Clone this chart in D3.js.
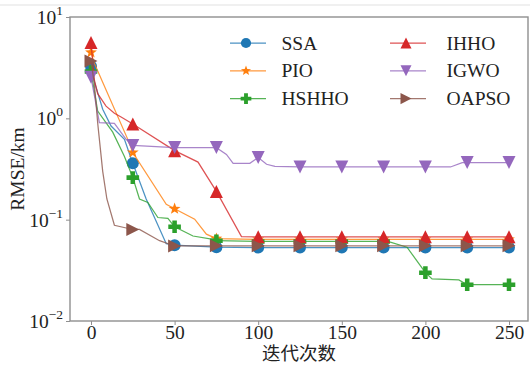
<!DOCTYPE html>
<html>
<head>
<meta charset="utf-8">
<script src="https://cdn.jsdelivr.net/npm/d3@7"></script>
<style>
  html, body { margin: 0; padding: 0; background: #fff; }
</style>
</head>
<body>
<svg id="chart" width="530" height="367"></svg>
<script>
// series data (iteration, RMSE in km)
const ssaIter   = [0, 2, 7, 12, 20, 25, 33, 45, 50, 75, 100, 125, 150, 175, 200, 225, 250];
const ssaVal    = [3.27, 2.3, 1.23, 0.84, 0.62, 0.36, 0.16, 0.058, 0.056, 0.0535, 0.053, 0.053, 0.053, 0.053, 0.053, 0.053, 0.053];

const pioIter   = [0, 2, 22, 25, 45, 50, 62, 69, 75, 100, 125, 150, 175, 200, 225, 250];
const pioVal    = [4.47, 3.5, 0.62, 0.46, 0.142, 0.128, 0.101, 0.072, 0.065, 0.064, 0.064, 0.064, 0.064, 0.064, 0.064, 0.064];

const hshhoIter = [0, 4, 13, 20, 25, 29, 34, 40, 46, 50, 61, 73, 75, 100, 125, 150, 175, 179, 189, 200, 204, 220, 225, 250];
const hshhoVal  = [2.9, 1.18, 0.73, 0.42, 0.26, 0.16, 0.148, 0.105, 0.103, 0.085, 0.069, 0.064, 0.062, 0.061, 0.061, 0.061, 0.061, 0.06, 0.0535, 0.030, 0.026, 0.0254, 0.0228, 0.0228];

const ihhoIter  = [0, 2, 4, 9, 14, 18, 25, 50, 64, 75, 90, 100, 125, 150, 175, 200, 225, 250];
const ihhoVal   = [5.6, 2.4, 1.75, 1.32, 1.12, 1.03, 0.88, 0.48, 0.37, 0.19, 0.068, 0.0677, 0.0677, 0.0677, 0.0677, 0.0677, 0.0677, 0.0677];

const igwoIter  = [0, 5, 14, 21, 25, 50, 75, 81, 85, 95, 100, 105, 110, 125, 150, 175, 200, 215, 222, 225, 250];
const igwoVal   = [2.55, 0.906, 0.89, 0.62, 0.54, 0.514, 0.514, 0.44, 0.36, 0.36, 0.41, 0.352, 0.335, 0.331, 0.331, 0.331, 0.331, 0.331, 0.366, 0.366, 0.366];

const oapsoIter = [0, 2, 4, 7, 9.5, 14, 25, 29, 41, 50, 75, 100, 125, 150, 175, 200, 225, 250];
const oapsoVal  = [3.67, 2.2, 0.9, 0.3, 0.16, 0.088, 0.080, 0.080, 0.062, 0.055, 0.0552, 0.0552, 0.0552, 0.0552, 0.0552, 0.0552, 0.0552, 0.0552];

const names   = ["SSA", "PIO", "HSHHO", "IHHO", "IGWO", "OAPSO"];
const colors  = ["#1f77b4", "#ff7f0e", "#2ca02c", "#d62728", "#9467bd", "#8c564b"];
const markers = ["circle", "star", "plus", "triUp", "triDown", "triRight"];
const iters   = [ssaIter, pioIter, hshhoIter, ihhoIter, igwoIter, oapsoIter];
const vals    = [ssaVal, pioVal, hshhoVal, ihhoVal, igwoVal, oapsoVal];

const xTicks = [0, 50, 100, 150, 200, 250];
const yTicks = [0.01, 0.1, 1, 10];

const SERIF = "'Liberation Serif', 'Times New Roman', serif";
const svg = d3.select("#chart");
const frame = { left: 70, right: 528, top: 17, bottom: 321 };

// scales
const x = d3.scaleLinear().domain([0, 250]).range([91, 509]);
const y = d3.scaleLog().domain([0.01, 10]).range([frame.bottom, frame.top]);

// faint line at the very top of the picture
svg.append("line").attr("x1", 0).attr("x2", 530).attr("y1", 5).attr("y2", 5)
  .attr("stroke", "#e2e2e2").attr("stroke-width", 1.2);

// marker shapes
function markerPath(type, s) {
  if (type === "circle") return d3.symbol(d3.symbolCircle, Math.PI * s * s)();
  if (type === "star") {
    const pts = [];
    for (let i = 0; i < 10; i++) {
      const r = i % 2 === 0 ? s * 1.0 : s * 0.42;
      const a = -Math.PI / 2 + i * Math.PI / 5;
      pts.push([r * Math.cos(a), r * Math.sin(a)]);
    }
    return "M" + pts.map(p => p.join(",")).join("L") + "Z";
  }
  if (type === "plus") {
    const w = s, t = s * 0.36;
    return `M${-t},${-w}H${t}V${-t}H${w}V${t}H${t}V${w}H${-t}V${t}H${-w}V${-t}H${-t}Z`;
  }
  if (type === "triUp") return `M0,${-s}L${s},${s}L${-s},${s}Z`;
  if (type === "triDown") return `M0,${s}L${s},${-s}L${-s},${-s}Z`;
  if (type === "triRight") return `M${s},0L${-s},${-s}L${-s},${s}Z`;
}
const markerSize = { circle: 6, star: 6.2, plus: 6.3, triUp: 6.5, triDown: 6.5, triRight: 6.5 };

// lines and markers
const line = d3.line().x(d => x(d[0])).y(d => y(d[1]));
const plot = svg.append("g");
names.forEach((name, i) => {
  const pts = iters[i].map((it, k) => [it, vals[i][k]]);
  const g = plot.append("g");
  g.append("path").attr("d", line(pts))
    .attr("fill", "none").attr("stroke", colors[i])
    .attr("stroke-width", 1.25).attr("stroke-opacity", 0.8);
  g.selectAll("path.mk").data(pts.filter(d => d[0] % 25 === 0))
    .enter().append("path").attr("class", "mk")
    .attr("transform", d => `translate(${x(d[0])},${y(d[1])})`)
    .attr("d", markerPath(markers[i], markerSize[markers[i]]))
    .attr("fill", colors[i]);
});

// frame
svg.append("rect")
  .attr("x", frame.left).attr("y", frame.top)
  .attr("width", frame.right - frame.left).attr("height", frame.bottom - frame.top)
  .attr("fill", "none").attr("stroke", "#8f8f8f").attr("stroke-width", 1.4);

// x axis
const xAxis = svg.append("g").attr("transform", `translate(0,${frame.bottom})`)
  .call(d3.axisBottom(x).tickValues(xTicks).tickSize(4).tickPadding(0));
xAxis.select(".domain").remove();
xAxis.selectAll("line").attr("stroke", "#8f8f8f");
xAxis.selectAll("text").attr("font-size", 19.5)
  .style("font-family", SERIF).attr("fill", "#222");

// y axis with power-of-ten labels
const yAxis = svg.append("g").attr("transform", `translate(${frame.left},0)`)
  .call(d3.axisLeft(y).tickValues(yTicks).tickSize(4).tickFormat(""));
yAxis.select(".domain").remove();
yAxis.selectAll("line").attr("stroke", "#8f8f8f");
yTicks.forEach(v => {
  const t = svg.append("text")
    .attr("x", 63).attr("y", y(v) + 7)
    .attr("text-anchor", "end").attr("font-size", 19.5)
    .style("font-family", SERIF).attr("fill", "#222");
  t.append("tspan").text("10");
  t.append("tspan").attr("dy", -9).attr("font-size", 13.5)
    .text(String(Math.round(Math.log10(v))).replace("-", "\u2212"));
});

// axis titles
svg.append("text")
  .attr("transform", "translate(24,169) rotate(-90)")
  .attr("text-anchor", "middle").attr("font-size", 19.5)
  .style("font-family", SERIF).attr("fill", "#222")
  .text("RMSE/km");
svg.append("text")
  .attr("x", 299).attr("y", 360)
  .attr("text-anchor", "middle").attr("font-size", 18.5)
  .style("font-family", "'Noto Sans CJK SC', sans-serif").attr("fill", "#222")
  .text("迭代次数");

// legend (two columns)
const legend = svg.append("g");
names.forEach((name, i) => {
  const col = Math.floor(i / 3), row = i % 3;
  const lx = col === 0 ? 230 : 390;
  const ly = 43 + row * 27.8;
  legend.append("line").attr("x1", lx).attr("x2", lx + 36)
    .attr("y1", ly).attr("y2", ly)
    .attr("stroke", colors[i]).attr("stroke-width", 1.25).attr("stroke-opacity", 0.8);
  legend.append("path")
    .attr("transform", `translate(${lx + 16},${ly})`)
    .attr("d", markerPath(markers[i], markerSize[markers[i]] * 0.85))
    .attr("fill", colors[i]);
  legend.append("text")
    .attr("x", lx + (col === 0 ? 51.5 : 56.5)).attr("y", ly + 6.5)
    .attr("font-size", 19.5)
    .style("font-family", SERIF).attr("fill", "#222")
    .text(name);
});
</script>
</body>
</html>
